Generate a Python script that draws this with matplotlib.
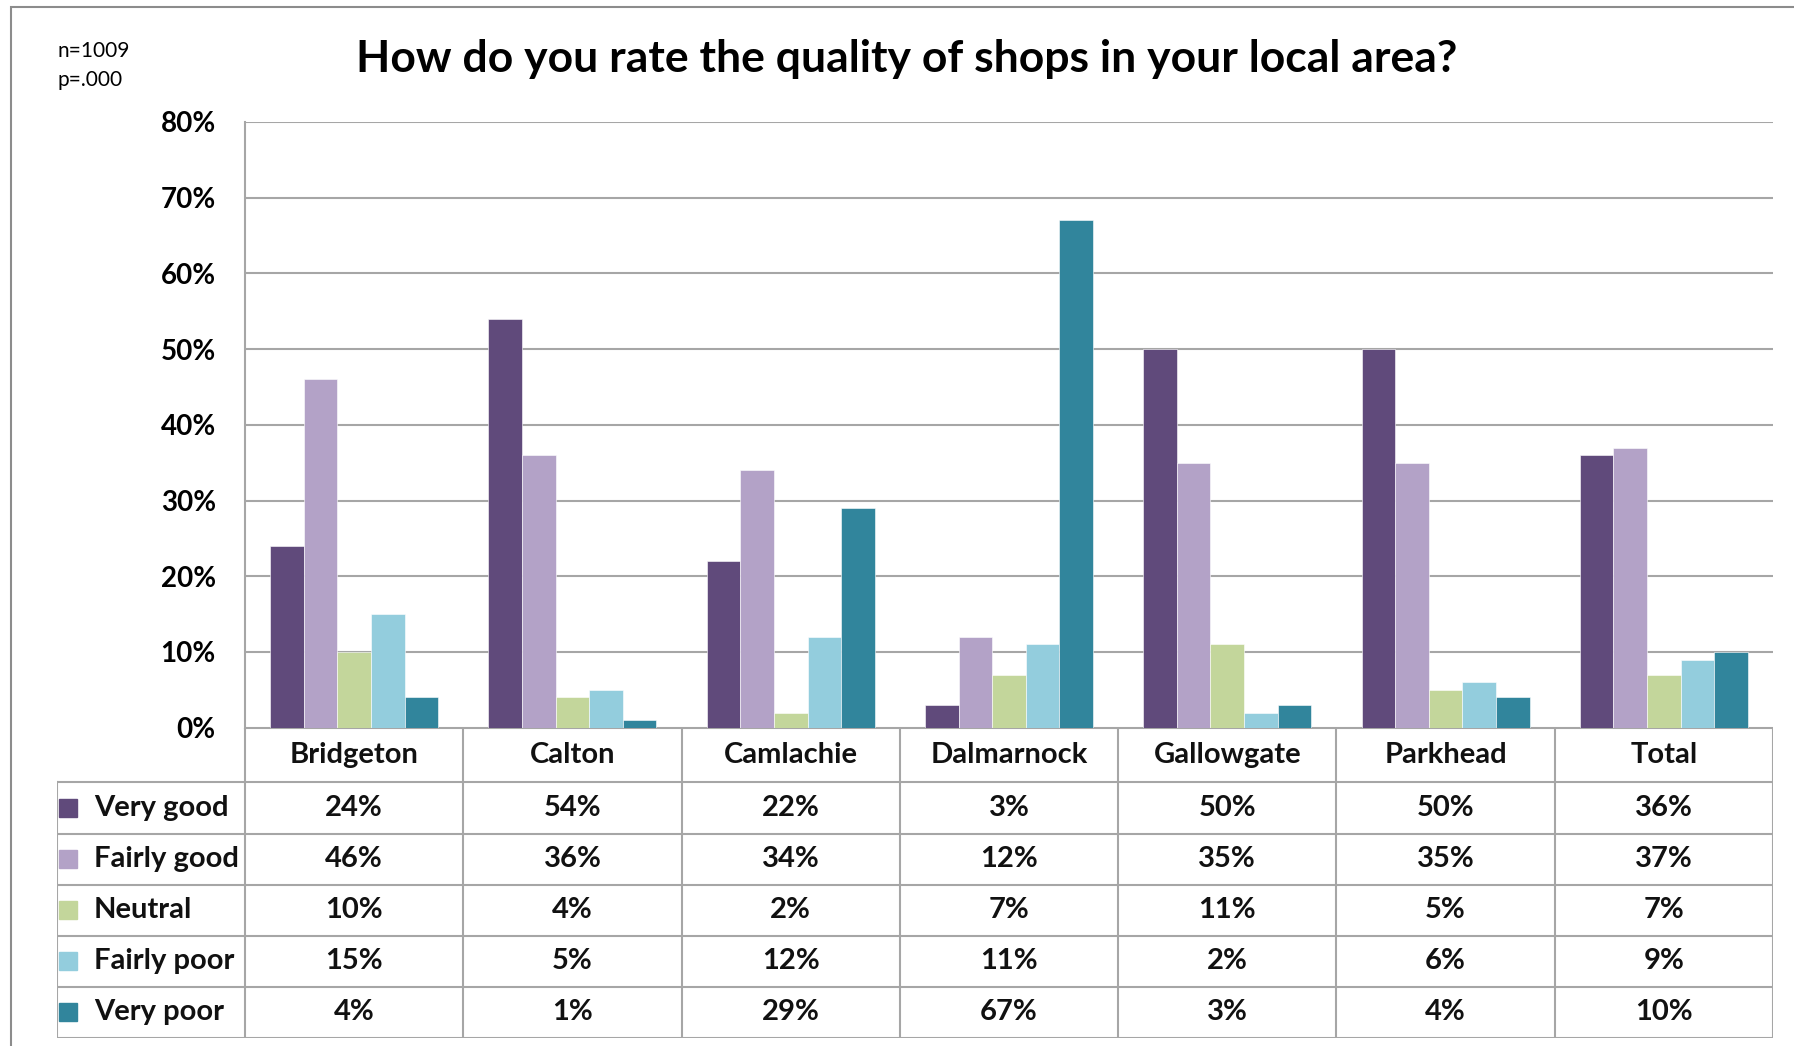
import matplotlib.pyplot as plt
from matplotlib.patches import Rectangle

areas = ['Bridgeton', 'Calton', 'Camlachie', 'Dalmarnock', 'Gallowgate',
         'Parkhead', 'Total']
ratings = ['Very good', 'Fairly good', 'Neutral', 'Fairly poor', 'Very poor']

# percentage of respondents per rating, one list per area
very_good = [24, 54, 22, 3, 50, 50, 36]
fairly_good = [46, 36, 34, 12, 35, 35, 37]
neutral = [10, 4, 2, 7, 11, 5, 7]
fairly_poor = [15, 5, 12, 11, 2, 6, 9]
very_poor = [4, 1, 29, 67, 3, 4, 10]

series = [very_good, fairly_good, neutral, fairly_poor, very_poor]
colors = ['#604A7B', '#B3A2C7', '#C3D69B', '#93CDDD', '#31859C']
yticks = [0, 10, 20, 30, 40, 50, 60, 70, 80]

W, H = 1794, 1046
grid_col = '#A6A6A6'
plt.rcParams['font.family'] = ['Lato', 'DejaVu Sans']

fig = plt.figure(figsize=(W / 100, H / 100), dpi=100)

# frame round the whole chart
fig.patches.append(Rectangle((11 / W, -0.05), 1.2, 1 - 7 / H + 0.05,
                             transform=fig.transFigure, fill=False,
                             edgecolor='#8C8C8C', lw=1.5))

x0, x1 = 245, 1773
y_zero, y_top = 727.7, 122
ax = fig.add_axes([x0 / W, 1 - y_zero / H, (x1 - x0) / W,
                   (y_zero - y_top) / H])

bar_w = 0.154
n = len(ratings)
for i, (vals, col) in enumerate(zip(series, colors)):
    offs = (i - (n - 1) / 2) * bar_w
    ax.bar([k + offs for k in range(len(areas))], vals, width=bar_w,
           color=col, edgecolor='white', linewidth=0.4, zorder=3)

ax.set_xlim(-0.5, len(areas) - 0.5)
ax.set_ylim(0, 80)
ax.set_yticks(yticks)
ax.set_yticklabels([f'{v}%' for v in yticks], fontsize=20,
                   fontweight='bold')
ax.tick_params(axis='y', length=0, pad=21)
ax.set_xticks([])
ax.grid(axis='y', color=grid_col, lw=1.5, zorder=0)
for s in ['top', 'right', 'bottom']:
    ax.spines[s].set_visible(False)
ax.spines['left'].set_color(grid_col)
ax.spines['left'].set_linewidth(1.5)

# data table under the bars
t_left = 57
unit = (x1 - x0) / len(areas)
xl = -0.5 - (x0 - t_left) / unit
y_bot = 1038
tab = fig.add_axes([t_left / W, 1 - y_bot / H, (x1 - t_left) / W,
                    (y_bot - y_zero) / H])
head_h = 1.07
tab.set_xlim(xl, len(areas) - 0.5)
tab.set_ylim(head_h + n, 0)
tab.axis('off')

lw = 1.5
# horizontal lines
tab.plot([-0.5, len(areas) - 0.5], [0, 0], color=grid_col, lw=lw)
for r in range(n + 1):
    yy = head_h + r
    tab.plot([xl, len(areas) - 0.5], [yy, yy], color=grid_col, lw=lw)
# vertical lines
for k in range(len(areas) + 1):
    xx = -0.5 + k
    tab.plot([xx, xx], [0, head_h + n], color=grid_col, lw=lw)
tab.plot([xl, xl], [head_h, head_h + n], color=grid_col, lw=lw)

cell_font = dict(fontsize=21, fontweight='bold', color='#111111')
for k, name in enumerate(areas):
    tab.text(k, head_h / 2, name, ha='center', va='center', **cell_font)
for r, (lab, vals, col) in enumerate(zip(ratings, series, colors)):
    yc = head_h + r + 0.5
    tab.plot(xl + 0.05, yc, marker='s', ms=13, color=col, mec=col)
    tab.text(xl + 0.168, yc, lab, ha='left', va='center', **cell_font)
    for k, v in enumerate(vals):
        tab.text(k, yc, f'{v}%', ha='center', va='center', **cell_font)

fig.text(907 / W, 1 - 59 / H,
         'How do you rate the quality of shops in your local area?',
         ha='center', va='center', fontsize=32, fontweight='bold')
fig.text(57 / W, 1 - 51 / H, 'n=1009', ha='left', va='center', fontsize=15)
fig.text(57 / W, 1 - 80 / H, 'p=.000', ha='left', va='center', fontsize=15)

fig.savefig('out.png', dpi=100, facecolor='white')
